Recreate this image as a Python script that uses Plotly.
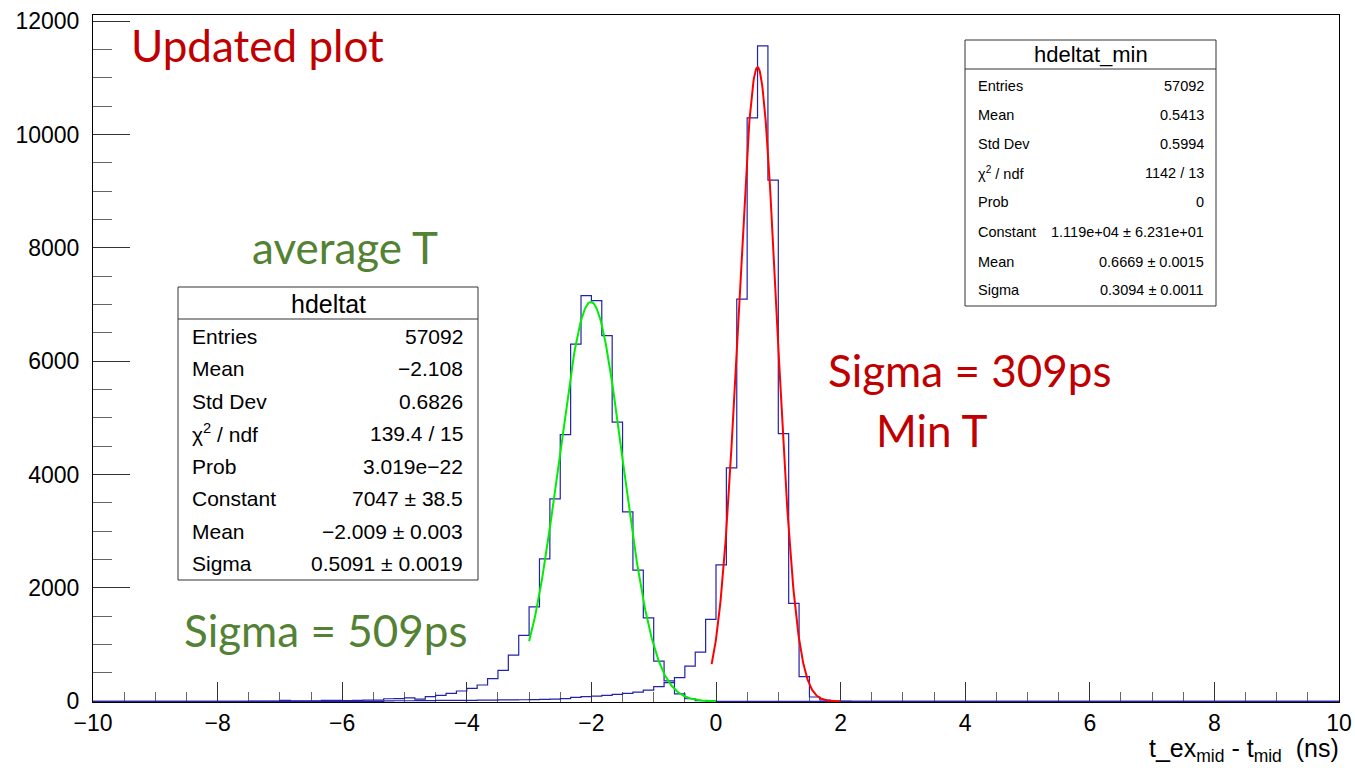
import numpy as np
import plotly.graph_objects as go

# ---------------- data ----------------
n_bins = 120
x_min, x_max = -10.0, 10.0

# hdeltat (average T) bin contents, starting at bin index 15
hdeltat_first_bin = 15
hdeltat_counts = [3, 5, 5, 18, 8, 10, 10, 18, 18, 12, 18, 20, 20, 45, 48, 62, 38, 82,
                  106, 141, 182, 229, 288, 400, 546, 816, 1163, 1668, 2514, 3571,
                  4705, 6302, 7159, 7071, 6454, 4928, 3342, 2314, 1474, 710, 360,
                  130, 45, 12, 5]

# hdeltat_min (min T) bin contents, starting at bin index 28
hmin_first_bin = 28
hmin_counts = [8, 10, 10, 12, 12, 15, 15, 18, 18, 20, 22, 25, 25, 28, 30, 35, 38, 48,
               70, 83, 93, 106, 123, 141, 164, 199, 259, 329, 417, 622, 869, 1445,
               2408, 4118, 7096, 10296, 11565, 9198, 4722, 1727, 435, 76, 23, 5, 2]

# Gaussian fit results (Constant, Mean, Sigma) and fit ranges
fit_avg = [7047.0, -2.009, 0.5091]
fit_avg_range = [-3.0, 0.0]
fit_min = [11190.0, 0.6669, 0.3094]
fit_min_range = [-0.07, 2.0]

x_ticks = [-10, -8, -6, -4, -2, 0, 2, 4, 6, 8, 10]
x_tick_labels = ["−10", "−8", "−6", "−4", "−2", "0", "2", "4", "6", "8", "10"]
y_ticks = [0, 2000, 4000, 6000, 8000, 10000, 12000]
y_tick_labels = ["0", "2000", "4000", "6000", "8000", "10000", "12000"]

stats_avg_title = "hdeltat"
stats_avg_labels = ["Entries", "Mean", "Std Dev", "χ<sup>2</sup> / ndf", "Prob",
                    "Constant", "Mean", "Sigma"]
stats_avg_values = ["57092", "−2.108", "0.6826", "139.4 / 15", "3.019e−22",
                    "7047 ± 38.5", "−2.009 ± 0.003", "0.5091 ± 0.0019"]

stats_min_title = "hdeltat_min"
stats_min_labels = ["Entries", "Mean", "Std Dev", "χ<sup>2</sup> / ndf", "Prob",
                    "Constant", "Mean", "Sigma"]
stats_min_values = ["57092", "0.5413", "0.5994", "1142 / 13", "0",
                    "1.119e+04 ± 6.231e+01", "0.6669 ± 0.0015", "0.3094 ± 0.0011"]

# ---------------- helpers ----------------
W, H = 1355, 768
L, R, T, B = 93, 1339, 15, 702


def px(x):
    return (x - L) / (R - L)


def py(y):
    return (B - y) / (B - T)


def full_counts(first, vals):
    arr = np.zeros(n_bins)
    arr[first:first + len(vals)] = vals
    return arr


edges = np.linspace(x_min, x_max, n_bins + 1)


def step_xy(counts):
    return edges, np.append(counts, counts[-1])


def gaus(p, rng):
    xs = np.linspace(rng[0], rng[1], 300)
    return xs, p[0] * np.exp(-0.5 * ((xs - p[1]) / p[2]) ** 2)


fig = go.Figure()

hist_color = "#2222aa"
for first, vals in [(hdeltat_first_bin, hdeltat_counts), (hmin_first_bin, hmin_counts)]:
    hx, hy = step_xy(full_counts(first, vals))
    fig.add_trace(go.Scatter(x=hx, y=hy, mode="lines", line=dict(color=hist_color, width=1.2, shape="hv"),
                             hoverinfo="skip", showlegend=False))

gx, gy = gaus(fit_avg, fit_avg_range)
fig.add_trace(go.Scatter(x=gx, y=gy, mode="lines", line=dict(color="#00ee00", width=2),
                         hoverinfo="skip", showlegend=False))
rx, ry = gaus(fit_min, fit_min_range)
fig.add_trace(go.Scatter(x=rx, y=ry, mode="lines", line=dict(color="#ff0000", width=2),
                         hoverinfo="skip", showlegend=False))

shapes = []
annotations = []
stat_font = "Liberation Sans, Arial, sans-serif"


def stats_box(x0, y0, x1, y1, ydiv, title, tx, ty, tsize, labels, values, rows_y, lx, vx, fsize):
    shapes.append(dict(type="rect", xref="paper", yref="paper", x0=px(x0), x1=px(x1),
                       y0=py(y1), y1=py(y0), line=dict(color="#333333", width=1),
                       fillcolor="white", layer="above"))
    shapes.append(dict(type="line", xref="paper", yref="paper", x0=px(x0), x1=px(x1),
                       y0=py(ydiv), y1=py(ydiv), line=dict(color="#333333", width=1), layer="above"))
    annotations.append(dict(xref="paper", yref="paper", x=px(tx), y=py(ty), text=title,
                            showarrow=False, xanchor="center", yanchor="middle",
                            font=dict(family=stat_font, size=tsize, color="black")))
    for lab, val, ry_ in zip(labels, values, rows_y):
        annotations.append(dict(xref="paper", yref="paper", x=px(lx), y=py(ry_), text=lab,
                                showarrow=False, xanchor="left", yanchor="middle",
                                font=dict(family=stat_font, size=fsize, color="black")))
        annotations.append(dict(xref="paper", yref="paper", x=px(vx), y=py(ry_), text=val,
                                showarrow=False, xanchor="right", yanchor="middle",
                                font=dict(family=stat_font, size=fsize, color="black")))


stats_box(178, 287, 478, 580, 319, stats_avg_title, 328, 304, 25,
          stats_avg_labels, stats_avg_values,
          [336, 368.5, 401, 433.5, 466, 498.5, 531, 563.5], 190, 465, 21)
stats_box(965, 40, 1216, 306, 69, stats_min_title, 1091, 55, 22,
          stats_min_labels, stats_min_values,
          [85.7, 115, 144.3, 173, 202, 232, 261.7, 290], 976, 1206, 14.5)

txt_font = "Lato, Open Sans, sans-serif"
red_txt = "#c00000"
green_txt = "#548235"
for text, cx, cy, color in [("Updated plot", 257, 45, red_txt),
                            ("average T", 345, 247, green_txt),
                            ("Sigma = 509ps", 326, 630, green_txt),
                            ("Sigma = 309ps", 970, 370, red_txt),
                            ("Min T", 932, 430, red_txt)]:
    annotations.append(dict(xref="paper", yref="paper", x=px(cx), y=py(cy), text=text,
                            showarrow=False, xanchor="center", yanchor="middle",
                            font=dict(family=txt_font, size=44, color=color)))

annotations.append(dict(xref="paper", yref="paper", x=px(1341), y=py(750),
                        text="t_ex<sub>mid</sub> - t<sub>mid</sub>\u00a0\u00a0(ns)",
                        showarrow=False, xanchor="right", yanchor="middle",
                        font=dict(family=stat_font, size=25, color="black")))

fig.update_layout(
    width=W, height=H,
    margin=dict(l=L, r=W - R, t=T, b=H - B, pad=0, autoexpand=False),
    plot_bgcolor="white", paper_bgcolor="white",
    shapes=shapes, annotations=annotations,
    font=dict(family=stat_font, size=23, color="black"),
)
fig.update_xaxes(range=[x_min, x_max], tickvals=x_ticks, ticktext=x_tick_labels,
                 ticks="inside", ticklen=20, automargin=False,
                 tickcolor="#333333", tickwidth=1, showgrid=False, zeroline=False,
                 showline=True, mirror=True, linecolor="black", linewidth=1,
                 layer="below traces", ticklabelstandoff=0,
                 minor=dict(dtick=0.5, ticks="inside", ticklen=10, tickcolor="#666666", showgrid=False),
                 tickfont=dict(size=23, family=stat_font))
fig.update_yaxes(range=[-12, 12110], tickvals=y_ticks, ticktext=y_tick_labels,
                 ticks="inside", ticklen=37, automargin=False,
                 tickcolor="#333333", tickwidth=1, showgrid=False, zeroline=False,
                 showline=True, mirror=True, linecolor="black", linewidth=1,
                 layer="below traces", ticklabelstandoff=8,
                 minor=dict(dtick=500, ticks="inside", ticklen=19, tickcolor="#666666", showgrid=False),
                 tickfont=dict(size=23, family=stat_font))

fig.write_html("out.html")
